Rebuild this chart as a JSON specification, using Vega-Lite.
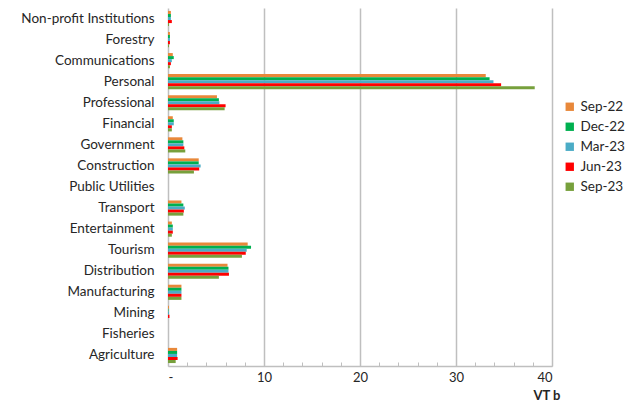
{
  "$schema": "https://vega.github.io/schema/vega-lite/v6.json",
  "autosize": "none",
  "width": 384,
  "height": 358,
  "padding": {"left": 168, "top": 8, "right": 80, "bottom": 37},
  "background": "white",
  "config": {
    "view": {"stroke": null},
    "font": "Lato",
    "axis": {"labelFont": "Lato", "titleFont": "Lato"}
  },
  "data": {"values": [
    {"sector": "Non-profit Institutions", "period": "Sep-22", "value": 0.3},
    {"sector": "Non-profit Institutions", "period": "Dec-22", "value": 0.3},
    {"sector": "Non-profit Institutions", "period": "Mar-23", "value": 0.3},
    {"sector": "Non-profit Institutions", "period": "Jun-23", "value": 0.4},
    {"sector": "Non-profit Institutions", "period": "Sep-23", "value": 0.1},
    {"sector": "Forestry", "period": "Sep-22", "value": 0.2},
    {"sector": "Forestry", "period": "Dec-22", "value": 0.2},
    {"sector": "Forestry", "period": "Mar-23", "value": 0.2},
    {"sector": "Forestry", "period": "Jun-23", "value": 0.2},
    {"sector": "Forestry", "period": "Sep-23", "value": 0.1},
    {"sector": "Communications", "period": "Sep-22", "value": 0.5},
    {"sector": "Communications", "period": "Dec-22", "value": 0.6},
    {"sector": "Communications", "period": "Mar-23", "value": 0.4},
    {"sector": "Communications", "period": "Jun-23", "value": 0.3},
    {"sector": "Communications", "period": "Sep-23", "value": 0.2},
    {"sector": "Personal", "period": "Sep-22", "value": 33.1},
    {"sector": "Personal", "period": "Dec-22", "value": 33.5},
    {"sector": "Personal", "period": "Mar-23", "value": 33.9},
    {"sector": "Personal", "period": "Jun-23", "value": 34.7},
    {"sector": "Personal", "period": "Sep-23", "value": 38.2},
    {"sector": "Professional", "period": "Sep-22", "value": 5.1},
    {"sector": "Professional", "period": "Dec-22", "value": 5.3},
    {"sector": "Professional", "period": "Mar-23", "value": 5.35},
    {"sector": "Professional", "period": "Jun-23", "value": 6.0},
    {"sector": "Professional", "period": "Sep-23", "value": 5.9},
    {"sector": "Financial", "period": "Sep-22", "value": 0.5},
    {"sector": "Financial", "period": "Dec-22", "value": 0.6},
    {"sector": "Financial", "period": "Mar-23", "value": 0.6},
    {"sector": "Financial", "period": "Jun-23", "value": 0.4},
    {"sector": "Financial", "period": "Sep-23", "value": 0.4},
    {"sector": "Government", "period": "Sep-22", "value": 1.5},
    {"sector": "Government", "period": "Dec-22", "value": 1.6},
    {"sector": "Government", "period": "Mar-23", "value": 1.6},
    {"sector": "Government", "period": "Jun-23", "value": 1.7},
    {"sector": "Government", "period": "Sep-23", "value": 1.8},
    {"sector": "Construction", "period": "Sep-22", "value": 3.2},
    {"sector": "Construction", "period": "Dec-22", "value": 3.2},
    {"sector": "Construction", "period": "Mar-23", "value": 3.4},
    {"sector": "Construction", "period": "Jun-23", "value": 3.25},
    {"sector": "Construction", "period": "Sep-23", "value": 2.7},
    {"sector": "Public Utilities", "period": "Sep-22", "value": 0},
    {"sector": "Public Utilities", "period": "Dec-22", "value": 0},
    {"sector": "Public Utilities", "period": "Mar-23", "value": 0},
    {"sector": "Public Utilities", "period": "Jun-23", "value": 0},
    {"sector": "Public Utilities", "period": "Sep-23", "value": 0},
    {"sector": "Transport", "period": "Sep-22", "value": 1.4},
    {"sector": "Transport", "period": "Dec-22", "value": 1.6},
    {"sector": "Transport", "period": "Mar-23", "value": 1.75},
    {"sector": "Transport", "period": "Jun-23", "value": 1.65},
    {"sector": "Transport", "period": "Sep-23", "value": 1.6},
    {"sector": "Entertainment", "period": "Sep-22", "value": 0.4},
    {"sector": "Entertainment", "period": "Dec-22", "value": 0.5},
    {"sector": "Entertainment", "period": "Mar-23", "value": 0.5},
    {"sector": "Entertainment", "period": "Jun-23", "value": 0.5},
    {"sector": "Entertainment", "period": "Sep-23", "value": 0.4},
    {"sector": "Tourism", "period": "Sep-22", "value": 8.3},
    {"sector": "Tourism", "period": "Dec-22", "value": 8.65},
    {"sector": "Tourism", "period": "Mar-23", "value": 8.2},
    {"sector": "Tourism", "period": "Jun-23", "value": 8.1},
    {"sector": "Tourism", "period": "Sep-23", "value": 7.7},
    {"sector": "Distribution", "period": "Sep-22", "value": 6.2},
    {"sector": "Distribution", "period": "Dec-22", "value": 6.3},
    {"sector": "Distribution", "period": "Mar-23", "value": 6.3},
    {"sector": "Distribution", "period": "Jun-23", "value": 6.35},
    {"sector": "Distribution", "period": "Sep-23", "value": 5.3},
    {"sector": "Manufacturing", "period": "Sep-22", "value": 1.4},
    {"sector": "Manufacturing", "period": "Dec-22", "value": 1.4},
    {"sector": "Manufacturing", "period": "Mar-23", "value": 1.4},
    {"sector": "Manufacturing", "period": "Jun-23", "value": 1.4},
    {"sector": "Manufacturing", "period": "Sep-23", "value": 1.4},
    {"sector": "Mining", "period": "Sep-22", "value": 0.1},
    {"sector": "Mining", "period": "Dec-22", "value": 0.05},
    {"sector": "Mining", "period": "Mar-23", "value": 0.1},
    {"sector": "Mining", "period": "Jun-23", "value": 0.15},
    {"sector": "Mining", "period": "Sep-23", "value": 0},
    {"sector": "Fisheries", "period": "Sep-22", "value": 0},
    {"sector": "Fisheries", "period": "Dec-22", "value": 0},
    {"sector": "Fisheries", "period": "Mar-23", "value": 0},
    {"sector": "Fisheries", "period": "Jun-23", "value": 0},
    {"sector": "Fisheries", "period": "Sep-23", "value": 0},
    {"sector": "Agriculture", "period": "Sep-22", "value": 0.95},
    {"sector": "Agriculture", "period": "Dec-22", "value": 0.95},
    {"sector": "Agriculture", "period": "Mar-23", "value": 0.95},
    {"sector": "Agriculture", "period": "Jun-23", "value": 1.0},
    {"sector": "Agriculture", "period": "Sep-23", "value": 0.8}
  ]},
  "mark": {"type": "bar"},
  "encoding": {
    "y": {
      "field": "sector", "type": "nominal", "sort": null,
      "scale": {"paddingInner": 0.28, "paddingOuter": 0.14},
      "axis": {
        "title": null, "ticks": false, "domainColor": "#BFBFBF", "domainWidth": 1.5,
        "labelFontSize": 13.5, "labelColor": "#262626", "labelPadding": 14
      }
    },
    "yOffset": {"field": "period", "type": "nominal", "sort": ["Sep-22", "Dec-22", "Mar-23", "Jun-23", "Sep-23"]},
    "x": {
      "field": "value", "type": "quantitative",
      "scale": {"domain": [0, 40], "nice": false},
      "axis": {
        "title": "VT b", "titleFontWeight": "bold", "titleFontSize": 13, "titleColor": "#262626",
        "titleAnchor": "end", "titleAlign": "right", "titleX": 392, "titleY": 33, "titleBaseline": "alphabetic",
        "values": [0, 2, 4, 6, 8, 10, 12, 14, 16, 18, 20, 22, 24, 26, 28, 30, 32, 34, 36, 38, 40],
        "labelExpr": "datum.value === 0 ? '-' : (datum.value % 10 === 0 ? datum.label : '')",
        "labelFontSize": 13, "labelColor": "#262626", "labelPadding": 9,
        "tickSize": -4, "tickColor": "#BFBFBF", "tickWidth": 1,
        "domainColor": "#BFBFBF", "domainWidth": 1.5,
        "grid": true, "gridColor": "#BFBFBF", "gridWidth": 1.5,
        "gridOpacity": {"condition": {"test": "datum.value % 10 === 0 && datum.value > 0", "value": 1}, "value": 0}
      }
    },
    "color": {
      "field": "period", "type": "nominal",
      "scale": {"domain": ["Sep-22", "Dec-22", "Mar-23", "Jun-23", "Sep-23"],
                "range": ["#E8883A", "#00B050", "#4BACC6", "#FF0000", "#77A03C"]},
      "legend": {
        "title": null, "orient": "none", "legendX": 395, "legendY": 92,
        "symbolType": "square", "symbolSize": 70, "symbolStrokeWidth": 0,
        "labelFontSize": 13.5, "labelColor": "#262626", "rowPadding": 5, "labelOffset": 4
      }
    }
  }
}
